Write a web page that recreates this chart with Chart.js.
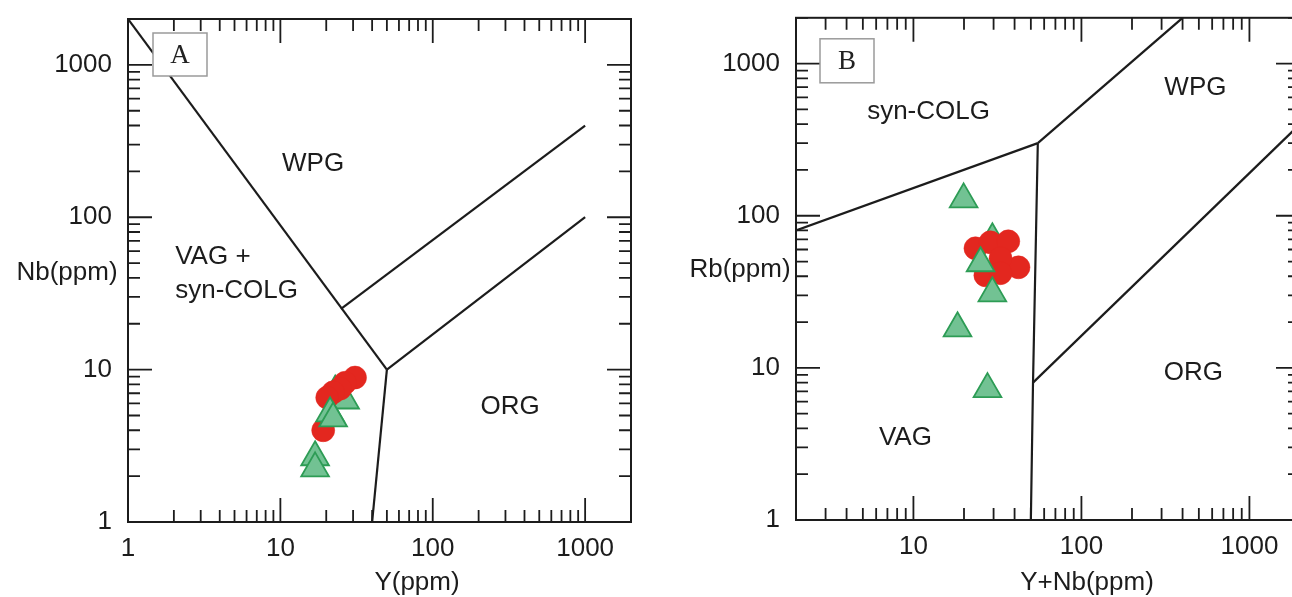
<!DOCTYPE html>
<html>
<head>
<meta charset="utf-8">
<script src="https://cdn.jsdelivr.net/npm/chart.js@4.4.0/dist/chart.umd.min.js"></script>
<style>
  html, body { margin: 0; padding: 0; background: #fff; overflow: hidden; width: 1292px; height: 597px; }
  canvas { position: absolute; top: 0; }
  #chartA { left: 0; }
  #chartB { left: 660px; }
</style>
</head>
<body>
<canvas id="chartA" width="700" height="597"></canvas>
<canvas id="chartB" width="700" height="597"></canvas>
<script>
// ---------- Panel A: Nb vs Y (ppm) ----------
const redY_A   = [30.9, 26.6, 24.7, 22.2, 20.3, 19.1];
const redNb_A  = [8.87, 8.2, 7.5, 7.1, 6.56, 4.0];
// green samples partly hidden behind the red cluster
const greenBackY_A  = [22.9, 26.6];
const greenBackNb_A = [7.18, 6.27];
// green samples lying over the red cluster
const greenY_A  = [21.2, 22.2, 16.9, 16.9];
const greenNb_A = [5.16, 4.78, 2.66, 2.25];

// field boundaries (Y, Nb)
const bndA_wpg   = [[1, 2000], [50, 10]];
const bndA_org1  = [[50, 10], [1000, 100]];
const bndA_org2  = [[25, 25], [1000, 400]];
const bndA_vag   = [[50, 10], [40, 1]];

const ticksA = [1, 10, 100, 1000];

// ---------- Panel B: Rb vs Y+Nb (ppm) ----------
const redYNb_B = [23.4, 28.7, 36.7, 42.2, 33.0, 26.8, 33.0];
const redRb_B  = [61.1, 66.9, 67.9, 45.8, 52.5, 40.6, 41.9];
const greenBackYNb_B = [29.5];
const greenBackRb_B  = [70];
const greenYNb_B = [19.9, 25.1, 29.5, 18.3, 27.6];
const greenRb_B  = [128, 48.7, 30.9, 18.2, 7.25];

const bndB_syn  = [[2, 80], [55, 300]];
const bndB_wpg  = [[55, 300], [400, 2000]];
const bndB_vag  = [[55, 300], [51.5, 8], [50, 1]];
const bndB_org  = [[51.5, 8], [2000, 400]];

const ticksBx = [10, 100, 1000];
const ticksBy = [1, 10, 100, 1000];

// ---------- shared helpers ----------
const SANS = '"Liberation Sans", Arial, Helvetica, sans-serif';
const SERIF = '"Liberation Serif", "Times New Roman", serif';
const INK = '#1c1c1c';
const RED = '#e3271f';
const GREEN_FILL = '#72c293';
const GREEN_EDGE = '#2d9c55';

const pts = (xs, ys) => xs.map((v, i) => ({ x: v, y: ys[i] }));
const seg = arr => arr.map(([x, y]) => ({ x, y }));

function boundary(arr) {
  return { data: seg(arr), showLine: true, pointRadius: 0, borderColor: INK,
           borderWidth: 2.2, fill: false, order: 5 };
}
function reds(xs, ys) {
  return { data: pts(xs, ys), pointStyle: 'circle', pointRadius: 11.5,
           backgroundColor: RED, borderColor: RED, borderWidth: 0.5, order: 2 };
}
function greens(xs, ys, order) {
  return { data: pts(xs, ys), pointStyle: 'triangle', pointRadius: 16,
           backgroundColor: GREEN_FILL, borderColor: GREEN_EDGE, borderWidth: 1.8, order };
}

// decade tick positions: [value, isMajor]
function logTicks(min, max) {
  const out = [];
  for (let e = Math.floor(Math.log10(min)); e <= Math.ceil(Math.log10(max)); e++) {
    for (let m = 1; m <= 9; m++) {
      const v = m * Math.pow(10, e);
      if (v >= min * 0.999 && v <= max * 1.001) out.push([v, m === 1]);
    }
  }
  return out;
}

// frame, inward ticks on all four sides, field names, panel tag and axis titles
const framePlugin = {
  id: 'frame',
  afterDatasetsDraw(chart, args, o) {
    const { ctx, chartArea: a } = chart;
    const x = chart.scales.x, y = chart.scales.y;
    ctx.save();
    ctx.strokeStyle = INK;
    ctx.lineWidth = 2;
    ctx.strokeRect(a.left, a.top, a.right - a.left, a.bottom - a.top);

    ctx.lineWidth = 1.8;
    ctx.beginPath();
    for (const [v, major] of logTicks(x.min, x.max)) {
      const p = x.getPixelForValue(v), len = major ? 24 : 12;
      ctx.moveTo(p, a.bottom); ctx.lineTo(p, a.bottom - len);
      ctx.moveTo(p, a.top); ctx.lineTo(p, a.top + len);
    }
    for (const [v, major] of logTicks(y.min, y.max)) {
      const p = y.getPixelForValue(v), len = major ? 24 : 12;
      ctx.moveTo(a.left, p); ctx.lineTo(a.left + len, p);
      ctx.moveTo(a.right, p); ctx.lineTo(a.right - len, p);
    }
    ctx.stroke();

    // field names
    ctx.fillStyle = INK;
    ctx.font = '26px ' + SANS;
    ctx.textBaseline = 'middle';
    for (const f of o.fields) {
      ctx.textAlign = f.align || 'center';
      ctx.fillText(f.text, x.getPixelForValue(f.x), y.getPixelForValue(f.y));
    }

    // panel tag
    const t = o.tag;
    const bx = a.left + t.dx, by = a.top + t.dy;
    ctx.fillStyle = '#fff';
    ctx.fillRect(bx, by, t.w, t.h);
    ctx.strokeStyle = '#9a9a9a';
    ctx.lineWidth = 1.5;
    ctx.strokeRect(bx, by, t.w, t.h);
    ctx.fillStyle = '#222';
    ctx.font = '27px ' + SERIF;
    ctx.textAlign = 'center';
    ctx.fillText(t.text, bx + t.w / 2, by + t.h / 2 + 1);

    // axis titles
    ctx.font = '26px ' + SANS;
    ctx.fillStyle = INK;
    for (const tt of o.titles) {
      ctx.textAlign = 'center';
      ctx.fillText(tt.text, tt.x, tt.y);
    }
    ctx.restore();
  }
};

function makeChart(id, cfg) {
  const W = 700, H = 597;
  return new Chart(document.getElementById(id), {
    type: 'scatter',
    data: { datasets: cfg.datasets },
    plugins: [framePlugin],
    options: {
      responsive: false,
      animation: false,
      events: [],
      layout: { padding: { left: 0, top: cfg.area.top, right: W - cfg.area.right, bottom: 0 } },
      plugins: {
        legend: { display: false },
        tooltip: { enabled: false },
        frame: { fields: cfg.fields, tag: cfg.tag, titles: cfg.titles }
      },
      scales: {
        x: {
          type: 'logarithmic', min: cfg.xMin, max: cfg.xMax,
          grid: { display: false, drawTicks: false },
          border: { display: false },
          afterBuildTicks: s => { s.ticks = cfg.xTicks.map(v => ({ value: v })); },
          afterFit: s => {
            s.height = H - cfg.area.bottom;
            s.paddingLeft = 0; s.paddingRight = 0;
          },
          ticks: { color: INK, font: { family: SANS, size: 26 }, padding: 11,
                   maxRotation: 0, autoSkip: false, callback: v => String(v) }
        },
        y: {
          type: 'logarithmic', min: cfg.yMin, max: cfg.yMax,
          grid: { display: false, drawTicks: false },
          border: { display: false },
          afterBuildTicks: s => { s.ticks = cfg.yTicks.map(v => ({ value: v })); },
          afterFit: s => {
            s.width = cfg.area.left;
            s.paddingTop = 0; s.paddingBottom = 0;
          },
          ticks: { color: INK, font: { family: SANS, size: 26 }, padding: 16,
                   autoSkip: false, callback: v => String(v) }
        }
      }
    }
  });
}

makeChart('chartA', {
  area: { left: 128, right: 631, top: 19, bottom: 522 },
  xMin: 1, xMax: 2000, yMin: 1, yMax: 2000,
  xTicks: ticksA, yTicks: ticksA,
  datasets: [
    boundary(bndA_wpg), boundary(bndA_org1), boundary(bndA_org2), boundary(bndA_vag),
    greens(greenBackY_A, greenBackNb_A, 3),
    reds(redY_A, redNb_A),
    greens(greenY_A, greenNb_A, 1)
  ],
  fields: [
    { text: 'WPG', x: 16.4, y: 225 },
    { text: 'VAG +', x: 2.04, y: 54.8, align: 'left' },
    { text: 'syn-COLG', x: 2.04, y: 32.8, align: 'left' },
    { text: 'ORG', x: 322, y: 5.73 }
  ],
  tag: { text: 'A', dx: 25, dy: 14, w: 54, h: 43 },
  titles: [
    { text: 'Y(ppm)', x: 417, y: 583 },
    { text: 'Nb(ppm)', x: 67, y: 273 }
  ]
});

makeChart('chartB', {
  area: { left: 136, right: 640, top: 17, bottom: 520 },
  xMin: 2, xMax: 2000, yMin: 1, yMax: 2000,
  xTicks: ticksBx, yTicks: ticksBy,
  datasets: [
    boundary(bndB_syn), boundary(bndB_wpg), boundary(bndB_vag), boundary(bndB_org),
    greens(greenBackYNb_B, greenBackRb_B, 3),
    reds(redYNb_B, redRb_B),
    greens(greenYNb_B, greenRb_B, 1)
  ],
  fields: [
    { text: 'syn-COLG', x: 12.3, y: 485 },
    { text: 'WPG', x: 477, y: 697 },
    { text: 'ORG', x: 464, y: 9.23 },
    { text: 'VAG', x: 8.96, y: 3.45 }
  ],
  tag: { text: 'B', dx: 24, dy: 21, w: 54, h: 44 },
  titles: [
    { text: 'Y+Nb(ppm)', x: 427, y: 583 },
    { text: 'Rb(ppm)', x: 80, y: 270 }
  ]
});
</script>
</body>
</html>
